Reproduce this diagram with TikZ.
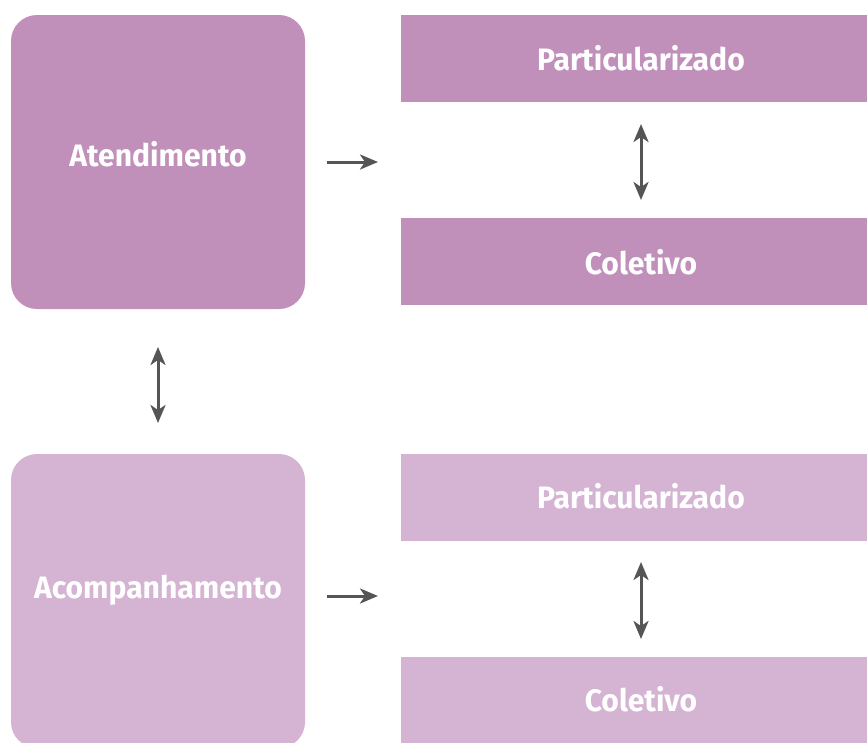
\documentclass[tikz,border=0pt]{standalone}
\usepackage{fontspec}
\setmainfont{Fira Sans}[BoldFont={* Bold},BoldFeatures={FakeStretch=0.97}]
\usetikzlibrary{arrows.meta}
\definecolor{dark}{HTML}{C090BB}
\definecolor{light}{HTML}{D4B3D3}
\definecolor{arr}{HTML}{555555}
\begin{document}
\begin{tikzpicture}[x=1pt,y=-1pt,
  bigbox/.style={rounded corners=26pt,inner sep=0pt,minimum width=294pt,minimum height=294pt},
  barbox/.style={inner sep=0pt,minimum width=466pt,minimum height=87pt},
  lbl/.style={text=white,inner sep=0pt,font=\bfseries\fontsize{31}{36}\selectfont},
  conn/.style={draw=arr,line width=3pt,-{Stealth[length=18pt,width=15pt,inset=5pt]}},
  dconn/.style={draw=arr,line width=3pt,{Stealth[length=18pt,width=15pt,inset=5pt]}-{Stealth[length=18pt,width=15pt,inset=5pt]}}]
\useasboundingbox (0,0) rectangle (867,742);
\begin{scope}
\clip (0,0) rectangle (867,742);
\node[bigbox,fill=dark] (ate) at (158,162) {};
\node[bigbox,fill=light] (aco) at (158,601) {};
\node[barbox,fill=dark] (p1) at (634,58.5) {};
\node[barbox,fill=dark] (c1) at (634,261.5) {};
\node[barbox,fill=light] (p2) at (634,497.5) {};
\node[barbox,fill=light] (c2) at (634,700.5) {};
\end{scope}
\node[lbl] (tate) at (158,154) {Atendimento};
\node[lbl] (taco) at (158,590) {Acompanhamento};
\node[lbl] (tp1) at (641,58) {Particularizado};
\node[lbl] (tc1) at (641,262) {Coletivo};
\node[lbl] (tp2) at (641,496) {Particularizado};
\node[lbl] (tc2) at (641,699) {Coletivo};
\coordinate (a1s) at (327,162); \coordinate (a1e) at (378,162);
\coordinate (a2s) at (327,596); \coordinate (a2e) at (378,596);
\coordinate (v1s) at (641,124); \coordinate (v1e) at (641,200);
\coordinate (v2s) at (641,562); \coordinate (v2e) at (641,639);
\coordinate (v3s) at (158,347); \coordinate (v3e) at (158,423);
\draw[conn] (a1s) -- (a1e);
\draw[conn] (a2s) -- (a2e);
\draw[dconn] (v1s) -- (v1e);
\draw[dconn] (v2s) -- (v2e);
\draw[dconn] (v3s) -- (v3e);
\end{tikzpicture}
\end{document}
